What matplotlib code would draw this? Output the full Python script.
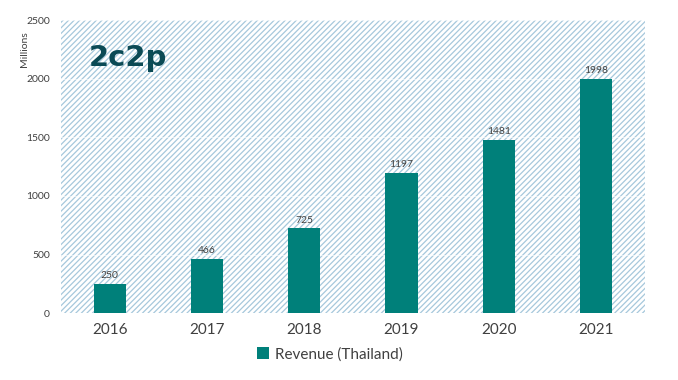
import matplotlib.pyplot as plt
from matplotlib.patches import Rectangle

years = ["2016", "2017", "2018", "2019", "2020", "2021"]
revenue = [250, 466, 725, 1197, 1481, 1998]

bar_color = "#00807a"
plt.rcParams["font.family"] = ["Lato", "DejaVu Sans"]
plt.rcParams["hatch.linewidth"] = 0.9

fig = plt.figure(figsize=(6.78, 3.8), dpi=100)
ax = fig.add_axes([0.09, 0.176, 0.861, 0.771])

# hatched background
bg = Rectangle((0, 0), 1, 1, transform=ax.transAxes, facecolor="white",
               edgecolor="#a6c8dc", hatch="//////", linewidth=0, zorder=0)
ax.add_patch(bg)

x = range(len(years))
bars = ax.bar(x, revenue, width=0.33, color=bar_color, zorder=3,
              label="Revenue (Thailand)")
for xi, v in zip(x, revenue):
    ax.text(xi, v + 30, str(v), ha="center", va="bottom", fontsize=7.5,
            color="#404040", zorder=4)

ax.set_ylim(0, 2500)
ax.set_xlim(-0.5, 5.5)
ax.set_yticks(range(0, 2501, 500))
ax.set_xticks(list(x))
ax.set_xticklabels(years, fontsize=11, color="#404040")
ax.tick_params(axis="y", labelsize=7.5, colors="#404040", length=0, pad=8)
ax.tick_params(axis="x", length=0, pad=7)
for y in range(500, 2501, 500):
    ax.axhline(y, color="white", linewidth=0.8, alpha=0.6, zorder=1)
for s in ax.spines.values():
    s.set_visible(False)
ax.set_ylabel("Millions", fontsize=7.5, color="#404040")
ax.yaxis.set_label_coords(-0.055, 0.9)

# logo
ax.text(0.047, 0.87, "2c2p", transform=ax.transAxes, fontsize=21,
        fontweight="bold", family="DejaVu Sans", color="#0b4a55",
        ha="left", va="center", zorder=5)

fig.legend(handles=[bars], labels=["Revenue (Thailand)"], loc="center",
           bbox_to_anchor=(0.487, 0.068), frameon=False, fontsize=11,
           handlelength=0.8, handleheight=0.8, handletextpad=0.4,
           labelcolor="#404040")

fig.savefig("out.png", dpi=100)
